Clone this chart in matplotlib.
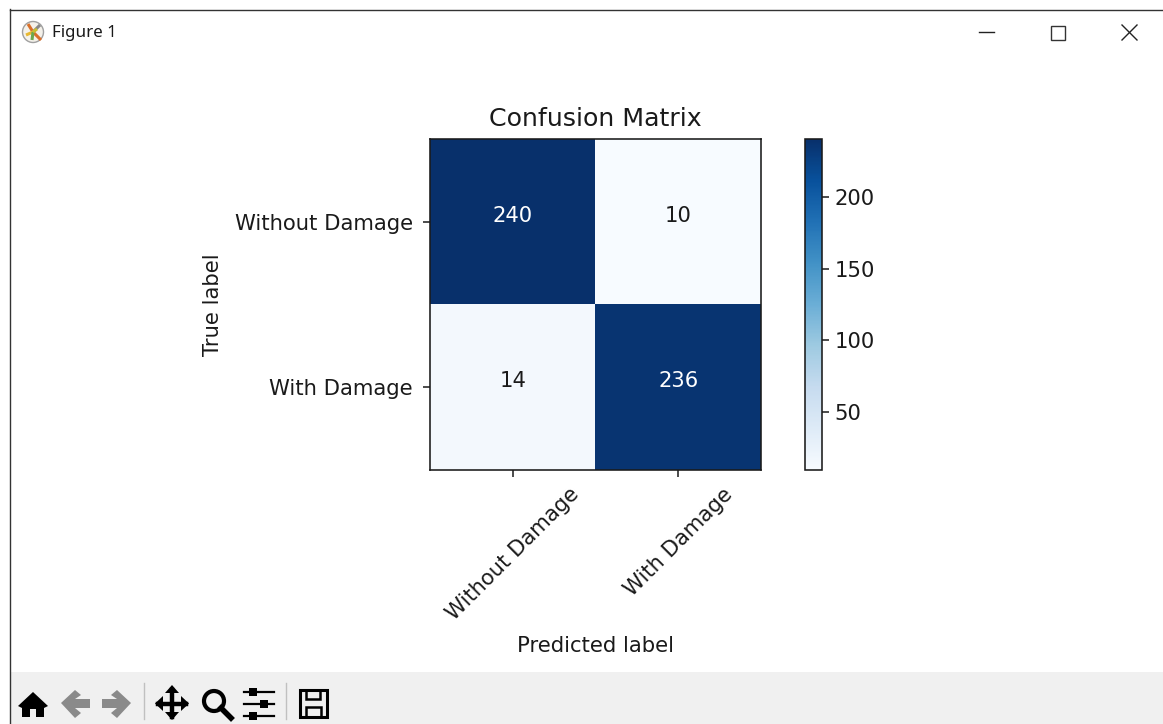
import numpy as np
import matplotlib
matplotlib.use('Agg')
import matplotlib.pyplot as plt
from matplotlib.patches import Rectangle, Polygon, Circle

W = 1163
H = 724

classes = ['Without Damage', 'With Damage']
cm = np.array([[240, 10], [14, 236]])
cbar_ticks = [50, 100, 150, 200]

TEXT = '#1a1a1a'

def px_axes(fig, x0, y0, x1, y1):
	return fig.add_axes([x0 / W, 1 - y1 / H, (x1 - x0) / W, (y1 - y0) / H])

plt.rcParams['axes.linewidth'] = 1.15
plt.rcParams['axes.edgecolor'] = '#1a1a1a'
fig = plt.figure(figsize=(W / 100, H / 100), dpi=100)

# window frame, toolbar, drawn in pixel coords
bg = fig.add_axes([0, 0, 1, 1], zorder=0)
bg.set_xlim(0, W)
bg.set_ylim(H, 0)
bg.axis('off')
bg.add_patch(Rectangle((10, 672), W - 10, 52, color='#f0f0f0', lw=0))
bg.plot([10, 10], [9, 724], color='#333333', lw=1.0)
bg.plot([10, W], [9.5, 9.5], color='#333333', lw=1.0)
bg.text(52, 33, 'Figure 1', fontsize=12.2, family='Noto Sans', va='center', color=TEXT)

# title bar icon
bg.add_patch(Circle((33, 32), 10.5, fc='#f4f1ea', ec='#a0a0a0', lw=1))
for dx, dy, c in [(-5, -8, '#d9702a'), (7, -7, '#888888'), (8, 8, '#d9702a'), (-7, 3, '#e8b830'), (-1, 8, '#6aa84f'), (4, -3, '#c9c030')]:
	bg.plot([33, 33 + dx], [32, 32 + dy], color=c, lw=2.2, solid_capstyle='butt')

# window buttons
bg.plot([979, 994], [31.5, 31.5], color='#222222', lw=1)
bg.add_patch(Rectangle((1050.5, 25.5), 14, 14, fc='none', ec='#333333', lw=1))
bg.plot([1122, 1137], [25, 40], color='#222222', lw=1)
bg.plot([1122, 1137], [40, 25], color='#222222', lw=1)

# toolbar icons
bg.add_patch(Polygon([(18, 706), (33, 692), (48, 706), (44, 708), (44, 717), (36, 717), (36, 709), (30, 709), (30, 717), (22, 717), (22, 708)], color='black', lw=0))
bg.add_patch(Polygon([(61, 703), (75, 690), (81, 695), (75, 699), (90, 699), (90, 708), (75, 708), (81, 713), (75, 718)], color='#8a8a8a', lw=0))
bg.add_patch(Polygon([(131, 703), (117, 690), (111, 695), (117, 699), (102, 699), (102, 708), (117, 708), (111, 713), (117, 718)], color='#8a8a8a', lw=0))
bg.plot([144, 144], [683, 719], color='#c0c0c0', lw=1)
bg.plot([286, 286], [683, 719], color='#c0c0c0', lw=1)
bg.plot([172, 172], [690, 717], color='black', lw=3.2)
bg.plot([158, 186], [703.5, 703.5], color='black', lw=3.2)
bg.add_patch(Polygon([(172, 685), (179, 693), (165, 693)], color='black', lw=0))
bg.add_patch(Polygon([(172, 720), (179, 712), (165, 712)], color='black', lw=0))
bg.add_patch(Polygon([(155, 703.5), (163, 696), (163, 711)], color='black', lw=0))
bg.add_patch(Polygon([(189, 703.5), (181, 696), (181, 711)], color='black', lw=0))
bg.add_patch(Circle((214, 701), 10, fc='none', ec='black', lw=3))
bg.plot([221, 231], [708, 718], color='black', lw=4)
for yy, xx in [(692, 253), (704, 264), (716, 253)]:
	bg.plot([244, 274], [yy, yy], color='black', lw=1.6)
	bg.add_patch(Rectangle((xx - 4, yy - 4), 8, 8, color='black', lw=0))
bg.add_patch(Rectangle((300, 690), 27, 27, fc='none', ec='black', lw=2.2))
bg.add_patch(Rectangle((306, 690), 14, 9, fc='none', ec='black', lw=1.8))
bg.add_patch(Rectangle((306, 707), 15, 10, fc='none', ec='black', lw=1.8))

# confusion matrix
ax = px_axes(fig, 430, 139, 761, 470)
im = ax.imshow(cm, interpolation='nearest', cmap=plt.cm.Blues, aspect='auto')
ax.set_title('Confusion Matrix', fontsize=18.2, pad=9.6, color=TEXT)
tick_marks = np.arange(len(classes))
ax.set_xticks(tick_marks)
ax.set_xticklabels(classes, rotation=45, fontsize=15.2, color=TEXT)
ax.set_yticks(tick_marks)
ax.set_yticklabels(classes, fontsize=15.2, color=TEXT)
ax.tick_params(length=5, width=1.1, color=TEXT)
ax.tick_params(axis='x', pad=5)
ax.tick_params(axis='y', pad=7.5)
ax.set_xlabel('Predicted label', fontsize=15.2, labelpad=8.4, color=TEXT)
ax.set_ylabel('True label', fontsize=15.2, labelpad=8.6, color=TEXT)

thresh = cm.max() / 2.
for i in range(cm.shape[0]):
	for j in range(cm.shape[1]):
		ax.text(j, i, format(cm[i, j], 'd'), ha='center', fontsize=15.2,
			color='white' if cm[i, j] > thresh else TEXT)

cax = px_axes(fig, 805, 139, 822, 470)
cb = fig.colorbar(im, cax=cax)
cb.set_ticks(cbar_ticks)
cb.ax.tick_params(labelsize=15.2, length=5, width=1.1, pad=4, color=TEXT, labelcolor=TEXT)

fig.savefig('out.png', dpi=100)
